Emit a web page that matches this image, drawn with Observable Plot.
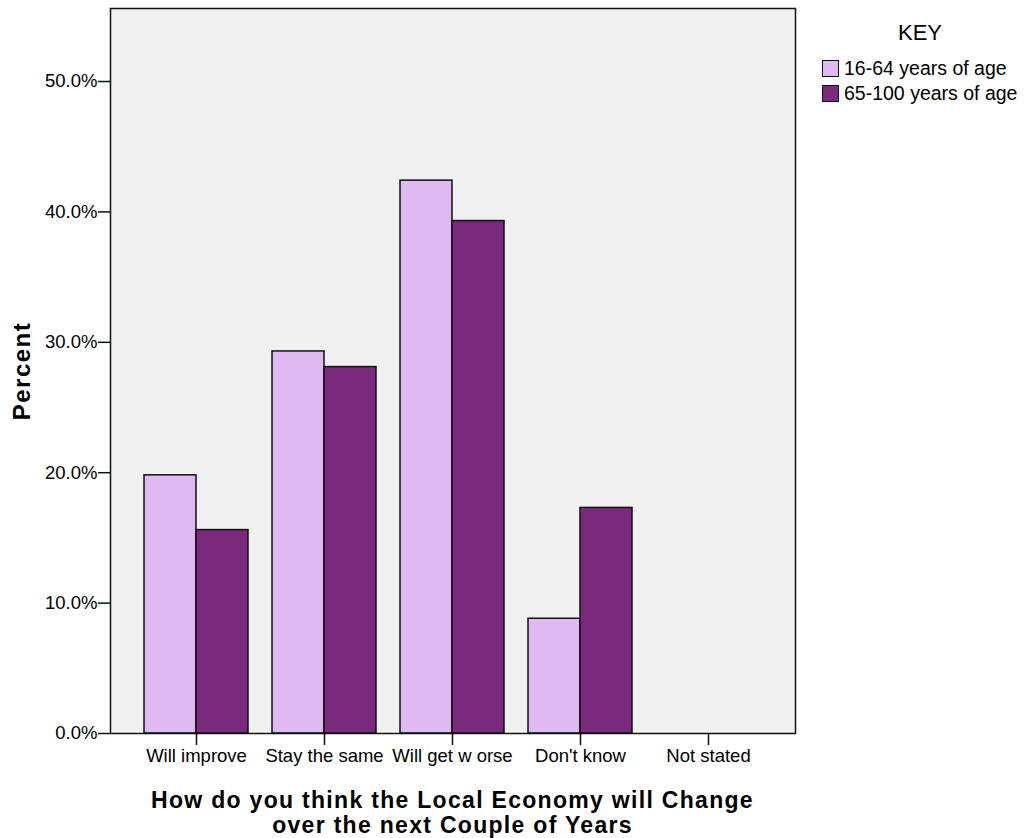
<!DOCTYPE html>
<html>
<head>
<meta charset="utf-8">
<script src="https://cdn.jsdelivr.net/npm/d3@7"></script>
<script src="https://cdn.jsdelivr.net/npm/@observablehq/plot@0.6"></script>
<style>
  html, body { margin: 0; padding: 0; background: #fff; }
  #wrap { position: relative; width: 1024px; height: 838px; font-family: "Liberation Sans", Arial, sans-serif; overflow: hidden; }
  #chart svg g[aria-label="y-axis tick label"] text { font-size: 18.5px; }
  #chart svg g[aria-label="x-axis tick label"] text { font-size: 18.5px; }
  #chart svg g[aria-label="y-axis label"] text { font-size: 24px; font-weight: bold; letter-spacing: 1.5px; }
  #legend { position: absolute; left: 822px; top: 20px; font-size: 19.5px; color: #000; }
  #legend .title { font-size: 22px; text-align: center; width: 196px; margin-bottom: 10px; line-height: 26px; }
  #legend .row { display: flex; align-items: center; height: 25px; }
  #legend .sw { width: 15px; height: 15px; border: 1.5px solid #111; margin-right: 5px; box-sizing: content-box; }
  #xtitle { position: absolute; left: 110px; width: 685px; top: 788px; text-align: center; font-weight: bold; font-size: 23px; letter-spacing: 1.3px; line-height: 25px; color: #000; }
</style>
</head>
<body>
<div id="wrap">
  <div id="chart"></div>
  <div id="legend"></div>
  <div id="xtitle"></div>
</div>
<script>
const categories = ["Will improve", "Stay the same", "Will get w orse", "Don't know", "Not stated"];
const groups = ["16-64 years of age", "65-100 years of age"];
const young = [0.198, 0.293, 0.424, 0.088, 0.0];
const old = [0.156, 0.281, 0.393, 0.173, 0.0];
const yTicks = [0, 0.1, 0.2, 0.3, 0.4, 0.5];
const colors = ["#dfb9f1", "#7b2a7b"];
const xTitleLines = ["How do you think the Local Economy will Change", "over the next Couple of Years"];
const yTitle = "Percent";
const legendTitle = "KEY";

const data = [];
categories.forEach((c, i) => {
  data.push({cat: c, group: groups[0], v: young[i]});
  data.push({cat: c, group: groups[1], v: old[i]});
});

const chart = Plot.plot({
  width: 1024,
  height: 838,
  marginLeft: 110,
  marginRight: 229,
  marginTop: 8,
  marginBottom: 105,
  style: {fontFamily: "'Liberation Sans', Arial, sans-serif", fontSize: "16px", background: "white", color: "#000"},
  x: {
    domain: categories,
    type: "band",
    insetLeft: 22,
    insetRight: 23,
    paddingInner: 0.1875,
    paddingOuter: 0.09375,
    label: null
  },
  y: {domain: [0, 0.556], label: null},
  color: {domain: groups, range: colors},
  marks: [
    Plot.frame({fill: "#f0f0f0", stroke: null}),
    Plot.barY(data.filter(d => d.group === groups[0]), {
      x: "cat", y: "v", fill: "group", stroke: "#111", strokeWidth: 1.5, insetRight: 52
    }),
    Plot.barY(data.filter(d => d.group === groups[1]), {
      x: "cat", y: "v", fill: "group", stroke: "#111", strokeWidth: 1.5, insetLeft: 52
    }),
    Plot.frame({stroke: "#111", strokeWidth: 1.5}),
    Plot.axisY({
      ticks: yTicks, tickFormat: d => (d * 100).toFixed(1) + "%",
      tickSize: 12, tickPadding: 1, stroke: "#111", strokeWidth: 1.5,
      label: yTitle, labelAnchor: "center", labelArrow: "none", labelOffset: 98
    }),
    Plot.axisX({
      tickSize: 12, tickPadding: 3, stroke: "#111", strokeWidth: 1.5, label: null
    })
  ]
});
document.getElementById("chart").appendChild(chart);

document.getElementById("xtitle").innerHTML = xTitleLines.join("<br>");

const legend = document.getElementById("legend");
const title = document.createElement("div");
title.className = "title";
title.textContent = legendTitle;
legend.appendChild(title);
groups.forEach((g, i) => {
  const row = document.createElement("div");
  row.className = "row";
  const sw = document.createElement("div");
  sw.className = "sw";
  sw.style.background = colors[i];
  const lab = document.createElement("span");
  lab.textContent = g;
  row.appendChild(sw);
  row.appendChild(lab);
  legend.appendChild(row);
});
</script>
</body>
</html>
